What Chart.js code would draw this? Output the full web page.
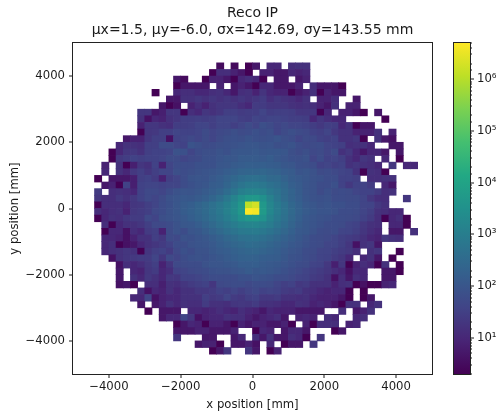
<!DOCTYPE html>
<html>
<head>
<meta charset="utf-8">
<script src="https://cdn.jsdelivr.net/npm/chart.js@4"></script>
<style>
html,body{margin:0;padding:0;background:#fff}
canvas{position:absolute;left:0;top:0}
</style>
</head>
<body>
<canvas id="main" width="504" height="412"></canvas>
<canvas id="cbar" width="504" height="412"></canvas>
<script>
const titleLines = ["Reco IP", "\u00b5x=1.5, \u00b5y=-6.0, \u03c3x=142.69, \u03c3y=143.55 mm"];
const xLabel = "x position [mm]";
const yLabel = "y position [mm]";
const xTicks = [-4000,-2000,0,2000,4000];
const yTicks = [-4000,-2000,0,2000,4000];
const cbDecades = [10,100,1000,10000,100000,1000000];
const cbRange = [2,5000000];
const binEdgeStart = -5000;
const binSize = 200;
const viridis = ["#440154","#482475","#414487","#355f8d","#2a788e","#21918c","#22a884","#44bf70","#7ad151","#bddf26","#fde725"];
const r00 = new Array(50).fill(0);
const r03 = [0,0,0,0,0,0,0,0,0,0, 0,0,0,0,0,0,0,0,0,0, 3,0,3,0,2,5,0,10,10,0, 14,16,16,0,0,0,0,0,0,0, 0,0,0,0,0,0,0,0,0,0];
const r04 = [0,0,0,0,0,0,0,0,0,0, 0,0,0,0,0,0,0,0,0,2, 14,14,8,5,2,0,8,8,5,5, 10,8,10,0,0,0,0,0,0,0, 0,0,0,0,0,0,0,0,0,0];
const r05 = [0,0,0,0,0,0,0,0,0,0, 0,0,0,0,5,3,0,0,2,8, 8,5,2,10,14,10,2,0,5,5, 0,5,8,0,0,0,0,0,0,0, 0,0,0,0,0,0,0,0,0,0];
const r06 = [0,0,0,0,0,0,0,0,0,0, 0,0,0,0,2,5,5,5,5,0, 8,0,5,8,5,2,10,10,5,5, 5,8,0,14,5,5,5,2,0,0, 0,0,0,0,0,0,0,0,0,0];
const r07 = [0,0,0,0,0,0,0,0,0,0, 0,2,0,0,10,14,14,10,10,14, 16,10,5,14,16,8,18,10,8,8, 2,5,8,16,2,8,5,5,0,0, 0,0,0,0,0,0,0,0,0,0];
const r08 = [0,0,0,0,0,0,0,0,0,0, 0,0,0,5,5,16,16,20,16,20, 16,20,16,20,16,20,25,14,20,16, 14,10,16,0,8,8,14,0,0,5, 0,0,0,0,0,0,0,0,0,0];
const r09 = [0,0,0,0,0,0,0,0,0,0, 0,0,5,2,4,0,8,14,8,16, 20,20,20,14,10,25,25,20,20,20, 16,14,16,14,8,5,16,0,8,8, 0,0,0,0,0,0,0,0,0,0];
const r10 = [0,0,0,0,0,0,0,0,0,20, 20,5,7,20,20,2,14,10,20,16, 20,30,30,25,28,28,40,28,30,30, 28,20,20,20,2,10,0,8,8,5, 2,0,5,0,0,0,0,0,0,0];
const r11 = [0,0,0,0,0,0,0,0,0,16, 4,10,8,16,20,28,28,30,28,30, 40,40,40,30,28,40,35,40,40,35, 30,30,28,10,20,14,10,10,0,0, 0,0,0,2,0,0,0,0,0,0];
const r12 = [0,0,0,0,0,0,0,0,0,8, 20,20,16,14,28,28,30,40,40,30, 40,40,30,40,55,40,70,55,40,50, 40,40,35,28,22,30,28,10,16,2, 5,5,0,0,0,0,0,0,0,0];
const r13 = [0,0,0,0,0,0,0,0,0,2, 20,22,30,30,40,35,35,40,55,40, 50,55,70,55,60,75,60,70,40,55, 70,55,50,35,30,40,22,16,16,8, 8,8,16,0,8,0,0,0,0,0];
const r14 = [0,0,0,0,0,0,0,5,8,8, 20,30,30,4,35,40,50,40,55,40, 55,70,75,70,85,75,70,75,90,70, 60,40,55,50,35,30,35,16,16,20, 2,0,16,5,4,0,0,0,0,0];
const r15 = [0,0,0,0,0,0,10,16,16,14, 30,30,55,55,40,35,85,70,55,60, 70,75,80,90,100,100,85,90,70,75, 85,60,50,55,60,40,35,30,14,16, 16,10,0,0,5,5,0,0,0,0];
const r16 = [0,0,0,0,0,2,10,20,22,16, 30,35,35,40,80,75,40,60,70,70, 85,75,100,110,110,120,100,110,110,100, 70,55,70,50,55,40,55,16,22,10, 5,10,10,5,0,5,0,0,0,0];
const r17 = [0,0,0,0,0,2,22,28,35,30, 35,35,40,55,55,40,50,55,75,75, 90,110,105,130,130,130,120,140,105,90, 75,70,80,40,60,35,40,30,16,10, 20,16,0,10,0,2,0,0,0,0];
const r18 = [0,0,0,0,8,0,16,2,7,20, 16,35,8,40,60,60,60,75,75,75, 100,105,130,150,170,160,170,150,140,110, 100,75,70,60,35,40,30,35,16,20, 16,14,10,0,20,0,10,10,0,0];
const r19 = [0,0,0,0,10,0,16,10,22,30, 20,30,40,40,70,60,70,80,90,100, 120,150,180,220,240,240,260,220,200,150, 130,90,100,80,55,60,50,40,35,16, 2,16,14,2,0,0,0,0,0,0];
const r20 = [0,0,0,2,0,5,5,5,7,30, 35,25,8,30,40,60,85,95,90,120, 150,200,270,350,420,450,400,300,300,200, 140,120,100,80,75,60,60,35,35,30, 0,14,14,16,16,0,0,0,0,0];
const r21 = [0,0,0,0,5,8,2,35,7,35, 40,40,35,40,40,60,75,90,100,140, 160,240,370,570,770,820,670,470,370,270, 170,130,95,80,60,60,75,35,22,35, 35,25,0,10,5,0,0,0,0,0];
const r22 = [0,0,0,25,0,14,16,14,10,35, 50,50,40,60,80,95,90,105,130,170, 220,350,620,1100,1400,1500,1200,720,500,320, 210,140,95,80,55,75,55,60,55,40, 35,35,25,14,16,0,0,0,0,0];
const r23 = [0,0,0,20,14,14,22,16,22,35, 50,40,55,80,95,115,110,130,170,240, 370,670,1400,2800,4500,5000,3000,1200,620,340, 210,150,100,80,75,80,60,60,55,55, 40,22,14,14,0,0,20,0,0,0];
const r24 = [0,0,0,2,14,14,14,10,20,22, 30,40,60,75,100,130,160,220,300,440, 670,1100,2000,4500,1100000,1800000,5000,1700,820,470, 270,180,120,100,80,90,75,75,60,60, 40,38,22,16,0,0,0,0,0,0];
const r25 = [0,0,0,14,10,14,16,8,22,25, 30,50,60,80,100,140,180,230,320,470, 720,1200,2200,5000,4800000,4000000,5500,1800,870,500, 300,190,130,110,90,90,80,60,60,55, 40,30,16,14,10,10,0,0,0,0];
const r26 = [0,0,0,2,10,16,14,20,25,25, 50,38,70,80,95,120,160,210,290,420, 620,1000,1700,3200,4500,4800,3300,1300,720,440, 260,170,115,95,80,75,60,60,55,50, 35,25,14,2,10,14,2,0,0,0];
const r27 = [0,0,0,0,14,2,10,16,16,20, 30,50,50,60,80,105,115,150,210,300, 440,640,920,1300,1500,1600,1200,920,540,360, 220,140,110,90,75,60,60,55,40,35, 22,16,14,0,10,10,2,0,0,0];
const r28 = [0,0,0,0,2,10,10,4,14,10, 25,30,8,55,80,60,95,110,145,210, 300,420,570,770,820,870,720,540,370,260, 180,120,110,80,60,55,60,40,38,30, 20,14,10,0,5,5,0,16,0,0];
const r29 = [0,0,0,0,10,10,8,4,8,16, 16,30,22,55,50,80,75,90,105,140, 190,260,340,440,470,520,420,340,250,190, 140,110,80,60,55,50,40,30,25,22, 16,10,8,20,16,14,0,0,0,0];
const r30 = [0,0,0,0,10,14,2,4,5,10, 16,20,25,35,60,60,80,90,95,120, 160,200,250,300,360,340,300,240,190,150, 115,95,75,60,55,40,40,30,20,4, 16,20,5,0,0,0,0,0,0,0];
const r31 = [0,0,0,0,10,14,16,20,16,2, 20,30,35,25,50,75,60,80,80,110, 130,150,190,220,250,260,220,190,160,120, 95,80,60,55,40,38,30,25,22,14, 0,16,20,0,0,2,0,0,0,0];
const r32 = [0,0,0,0,0,4,16,20,22,25, 25,40,20,50,40,60,75,80,75,90, 110,130,160,190,200,190,160,150,140,110, 80,75,60,50,38,35,25,20,10,0, 10,16,5,0,2,0,0,0,0,0];
const r33 = [0,0,0,0,0,0,4,14,10,14, 22,30,8,20,50,55,60,60,80,95, 95,110,120,150,150,160,130,120,110,90, 75,60,55,38,35,22,7,20,2,8, 14,10,2,16,0,2,0,0,0,0];
const r34 = [0,0,0,0,0,0,5,0,10,8, 20,25,10,14,35,40,50,55,60,75, 80,80,95,105,130,110,120,105,90,75, 60,50,38,30,25,20,14,10,4,10, 10,0,0,5,5,2,0,0,0,0];
const r35 = [0,0,0,0,0,0,5,0,16,10, 22,16,10,22,20,35,35,40,50,60, 60,60,60,75,75,90,80,75,60,60, 50,38,35,25,22,16,4,14,5,14, 10,0,0,5,5,0,0,0,0,0];
const r36 = [0,0,0,0,0,0,4,5,2,0, 14,14,7,16,14,20,25,30,35,20, 50,55,60,60,50,60,60,55,40,30, 35,22,25,16,16,16,8,14,16,2, 4,2,2,8,10,0,0,0,0,0];
const r37 = [0,0,0,0,0,0,0,0,0,14, 4,10,8,16,10,16,16,22,22,25, 35,30,40,30,40,50,35,40,35,25, 22,25,16,14,10,8,10,10,2,0, 2,0,0,0,0,0,0,0,0,0];
const r38 = [0,0,0,0,0,0,0,0,10,10, 40,4,8,10,10,16,16,16,30,22, 25,40,25,22,30,35,22,22,25,16, 16,14,16,10,8,8,8,5,2,0, 2,5,0,0,0,0,0,0,0,0];
const r39 = [0,0,0,0,0,0,0,0,0,5, 0,5,8,16,10,16,14,14,25,16, 16,14,20,22,20,25,16,16,14,10, 10,16,14,8,10,8,5,2,16,16, 0,10,16,0,0,0,0,0,0,0];
const r40 = [0,0,0,0,0,0,0,0,0,0, 2,0,5,5,5,0,10,10,8,10, 14,10,8,14,10,8,5,10,8,8, 8,5,5,5,5,0,0,14,0,5, 8,16,0,0,0,0,0,0,0,0];
const r41 = [0,0,0,0,0,0,0,0,0,0, 0,0,5,10,10,40,20,4,8,10, 10,16,14,14,8,5,8,10,14,5, 0,8,10,8,0,14,10,0,0,10, 14,0,0,0,0,0,0,0,0,0];
const r42 = [0,0,0,0,0,0,0,0,0,0, 0,0,0,0,2,5,10,8,2,8, 8,5,2,8,5,8,8,5,5,8, 2,0,8,2,14,14,14,0,8,10, 0,0,0,0,0,0,0,0,0,0];
const r43 = [0,0,0,0,0,0,0,0,0,0, 0,0,0,0,5,5,5,8,8,5, 5,5,8,0,0,2,10,8,0,5, 10,10,5,0,0,0,2,5,0,0, 0,0,0,0,0,0,0,0,0,0];
const r44 = [0,0,0,0,0,0,0,0,0,0, 0,0,0,0,20,0,0,0,5,5, 0,0,5,10,0,14,5,16,5,5, 14,10,2,0,20,0,0,0,0,0, 0,0,0,0,0,0,0,0,0,0];
const r45 = [0,0,0,0,0,0,0,0,0,0, 0,0,0,0,0,0,0,5,8,8, 2,0,5,5,8,4,0,10,0,2, 5,5,0,20,0,0,0,0,0,0, 0,0,0,0,0,0,0,0,0,0];
const r46 = [0,0,0,0,0,0,0,0,0,0, 0,0,0,0,0,0,0,0,0,2, 5,20,0,0,20,5,0,2,8,0, 0,0,0,0,0,0,0,0,0,0, 0,0,0,0,0,0,0,0,0,0];
const rowsTopDown = [r00,r00,r00,r03,r04,r05,r06,r07,r08,r09,r10,r11,r12,r13,r14,r15,r16,r17,r18,r19,r20,r21,r22,r23,r24,r25,r26,r27,r28,r29,r30,r31,r32,r33,r34,r35,r36,r37,r38,r39,r40,r41,r42,r43,r44,r45,r46,r00,r00,r00];

function hexRgb(h){return [1,3,5].map(i=>parseInt(h.substr(i,2),16));}
function colorOf(v){
  const lo=Math.log10(cbRange[0]),hi=Math.log10(cbRange[1]);
  const t=Math.min(1,Math.max(0,(Math.log10(v)-lo)/(hi-lo)))*(viridis.length-1);
  const k=Math.min(viridis.length-2,Math.floor(t)),f=t-k;
  const a=hexRgb(viridis[k]),b=hexRgb(viridis[k+1]);
  return 'rgb('+a.map((c,i)=>Math.round(c+(b[i]-c)*f)).join(',')+')';
}
const cells=[],cellColors=[];
rowsTopDown.forEach((row,j)=>{
  const yTop=-binEdgeStart-j*binSize;
  row.forEach((v,i)=>{
    if(v>0){
      cells.push({x:binEdgeStart+(i+0.5)*binSize,y:[yTop-binSize,yTop]});
      cellColors.push(colorOf(v));
    }
  });
});
const font={family:"'DejaVu Sans'",size:11.67};
const ink='#1a1a1a';
Chart.defaults.animation=false;
const minus=v=>String(v).replace('-','\u2212');
const frame={id:'frame',afterDraw(c){
  const a=c.chartArea,g=c.ctx;g.save();g.strokeStyle='#222';g.lineWidth=1;
  g.strokeRect(Math.round(a.left)-0.5,Math.round(a.top)-0.5,Math.round(a.right-a.left)+1,Math.round(a.bottom-a.top)+1);g.restore();
}};
new Chart(document.getElementById('main'),{
  type:'bar',
  data:{datasets:[{data:cells,backgroundColor:cellColors,borderWidth:0,barPercentage:1,categoryPercentage:1,inflateAmount:0.35}]},
  plugins:[frame],
  options:{
    responsive:false,
    layout:{padding:{left:0,right:72,top:0,bottom:0}},
    plugins:{
      legend:{display:false},tooltip:{enabled:false},
      title:{display:true,text:titleLines,color:ink,fullSize:false,font:{family:font.family,size:14,lineHeight:1.2,weight:'normal'},padding:{top:5,bottom:4.4}}
    },
    scales:{
      x:{type:'linear',min:-5000,max:5000,offset:false,
        afterBuildTicks(s){s.ticks=xTicks.map(v=>({value:v}));},
        afterFit(s){s.height=38;},
        grid:{display:true,drawOnChartArea:false,offset:false,lineWidth:0,tickWidth:1,tickLength:4,tickColor:ink},
        border:{display:false},
        ticks:{font,color:ink,padding:2,maxRotation:0,callback:minus},
        title:{display:true,text:xLabel,font,color:ink,padding:{top:2,bottom:0}}},
      y:{type:'linear',min:-5000,max:5000,
        afterBuildTicks(s){s.ticks=yTicks.map(v=>({value:v}));},
        afterFit(s){s.width=73;},
        grid:{display:true,drawOnChartArea:false,lineWidth:0,tickWidth:1,tickLength:4,tickColor:ink},
        border:{display:false},
        ticks:{font,color:ink,padding:4,callback:minus},
        title:{display:true,text:yLabel,font,color:ink,padding:{top:8,bottom:0}}}
    }
  }
});
new Chart(document.getElementById('cbar'),{
  type:'bar',
  data:{labels:[''],datasets:[{data:[cbRange],borderWidth:0,barPercentage:1,categoryPercentage:1,
    backgroundColor(ctx){
      const a=ctx.chart.chartArea;if(!a)return viridis[0];
      const g=ctx.chart.ctx.createLinearGradient(0,a.bottom,0,a.top);
      viridis.forEach((c,i)=>g.addColorStop(i/(viridis.length-1),c));
      return g;
    }}]},
  plugins:[frame],
  options:{
    responsive:false,
    layout:{padding:{left:454,right:0,top:43,bottom:38}},
    plugins:{legend:{display:false},tooltip:{enabled:false},title:{display:false}},
    scales:{
      x:{display:false},
      y:{type:'logarithmic',position:'right',min:cbRange[0],max:cbRange[1],
        afterFit(s){s.width=34;},
        grid:{drawOnChartArea:false,lineWidth:0,tickWidth:1,tickLength:4,tickColor:ink,
          tickBorderDash(c){return cbDecades.includes(c.tick.value)?[]:[2,50];}},
        border:{display:false},
        ticks:{font,color:ink,padding:3,autoSkip:false,
          callback(v){const k=cbDecades.indexOf(v);return k<0?'':'10'+'\u00b9\u00b2\u00b3\u2074\u2075\u2076'[k];}}}
    }
  }
});
</script>
</body>
</html>
